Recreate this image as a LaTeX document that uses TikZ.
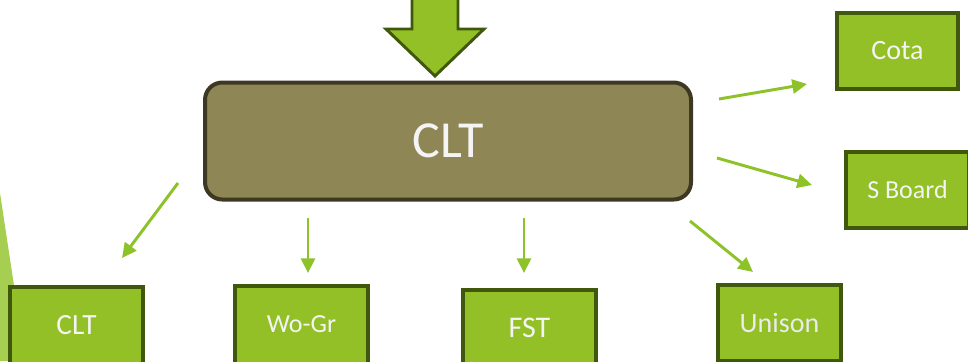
\documentclass[tikz,border=0pt]{standalone}
\usepackage{fontspec}
\setmainfont{Carlito}
\usetikzlibrary{arrows.meta}
\definecolor{mainfill}{HTML}{8F8656}
\definecolor{mainborder}{HTML}{3D3822}
\definecolor{boxfill}{HTML}{92C026}
\definecolor{boxborder}{HTML}{40580E}
\definecolor{arrowgreen}{HTML}{8DC228}
\definecolor{wedge}{HTML}{A6CE50}
\definecolor{txt}{HTML}{F4F4F4}
\tikzset{
  gbox/.style={draw=boxborder, fill=boxfill, line width=3pt, text=txt, inner sep=0pt, anchor=north west},
  conn/.style={draw=arrowgreen, line width=2.2pt, -{Triangle[length=11pt,width=10.5pt]}},
}
\begin{document}
\begin{tikzpicture}[x=0.75pt,y=-0.75pt]
\useasboundingbox (0,0) rectangle (968,361);
\clip (0,0) rectangle (968,361);
% left wedge
\fill[wedge] (0,193) -- (15,292) -- (15,361) -- (0,361) -- cycle;
% big top arrow
\draw[fill=boxfill, draw=boxborder, line width=2.2pt, line join=miter]
  (412,-5) -- (412,29) -- (386,29) -- (435,76) -- (484,29) -- (458,29) -- (458,-5) -- cycle;
% main box
\node[draw=mainborder, fill=mainfill, line width=3pt, rounded corners=13pt,
      minimum width=486*0.75pt, minimum height=117*0.75pt, inner sep=0pt,
      text=txt, font=\fontsize{39}{40}\selectfont] (main) at (448,141) {CLT};
% small boxes
\node[gbox, minimum width=121*0.75pt, minimum height=76*0.75pt, font=\fontsize{21}{22}\selectfont] (cota) at (835,11) {};
\node[text=txt, font=\fontsize{21}{22}\selectfont] at (cota.center) {Cota};
\node[gbox, minimum width=123*0.75pt, minimum height=76*0.75pt] (sboard) at (844,150) {};
\node[text=txt, font=\fontsize{19.5}{20}\selectfont] at (sboard.center) {S Board};
\node[gbox, minimum width=133*0.75pt, minimum height=78*0.75pt] (clt) at (8,285) {};
\node[text=txt, font=\fontsize{22}{23}\selectfont] at ([yshift=1pt]clt.center) {CLT};
\node[gbox, minimum width=133*0.75pt, minimum height=78*0.75pt] (wogr) at (233,284) {};
\node[text=txt, font=\fontsize{19.5}{20}\selectfont] at ([yshift=1pt]wogr.center) {Wo-Gr};
\node[gbox, minimum width=133*0.75pt, minimum height=78*0.75pt] (fst) at (461,288) {};
\node[text=txt, font=\fontsize{22.5}{23}\selectfont] at ([yshift=1pt]fst.center) {FST};
\node[gbox, minimum width=123*0.75pt, minimum height=76*0.75pt] (unison) at (716,283) {};
\node[text=txt!92!gray, font=\fontsize{21}{22}\selectfont] at (unison.center) {Unison};
% connector end points
\coordinate (a1) at (178,183); \coordinate (b1) at (122,258);
\coordinate (a2) at (308,218); \coordinate (b2) at (308,273);
\coordinate (a3) at (524,218); \coordinate (b3) at (524,273);
\coordinate (a4) at (690,221); \coordinate (b4) at (753,272);
\coordinate (a5) at (719,99);  \coordinate (b5) at (807,84);
\coordinate (a6) at (717,158); \coordinate (b6) at (812,185);
\draw[conn] (a1) -- (b1);
\draw[conn] (a2) -- (b2);
\draw[conn] (a3) -- (b3);
\draw[conn] (a4) -- (b4);
\draw[conn] (a5) -- (b5);
\draw[conn] (a6) -- (b6);
\end{tikzpicture}
\end{document}
